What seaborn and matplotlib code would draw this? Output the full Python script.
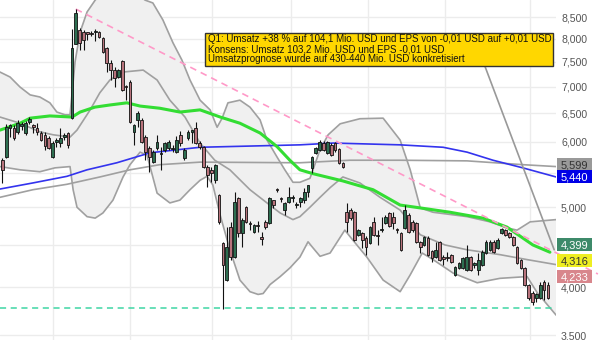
import numpy as np
import matplotlib
matplotlib.use("Agg")
import matplotlib.pyplot as plt
from matplotlib.patches import Rectangle
from matplotlib.ticker import FixedLocator, FuncFormatter, NullLocator, NullFormatter
import seaborn as sns

# ---------------- data (prices) ----------------
opens = [5.70, 5.75, 6.24, 6.24, 6.17, 6.27, 6.15, 6.34, 6.29, 6.24,
         6.15, 6.12, 6.07, 5.75, 6.00, 5.98, 6.08, 6.15, 6.41, 7.89,
         8.20, 8.15, 8.13, 8.11, 8.15, 8.15, 8.02, 7.80, 7.48, 7.33,
         7.19, 7.52, 7.01, 7.09, 6.17, 6.38, 6.38, 6.08, 5.90, 5.67,
         5.90, 5.80, 5.87, 5.90, 5.88, 5.83, 6.12, 5.74, 6.07, 6.17,
         6.24, 5.98, 5.92, 5.59, 5.55, 5.39, 5.17, 4.53, 4.08, 4.73,
         4.35, 5.13, 4.65, 5.00, 4.79, 4.67, 4.76, 4.59, 4.80, 4.79,
         5.10, 5.25, 5.12, 4.96, 5.07, 5.13, 5.03, 5.07, 5.10, 5.22,
         5.58, 5.82, 5.87, 5.98, 5.82, 5.95, 5.98, 5.88, 5.66, 4.93,
         4.96, 4.93, 4.63, 4.65, 4.59, 4.53, 4.80, 4.63, 4.69, 4.79,
         4.92, 4.87, 4.71, 4.65, 4.72, 4.89, 4.80, 4.79, 4.54, 4.50,
         4.59, 4.43, 4.35, 4.54, 4.34, 4.35, 4.38, 4.14, 4.22, 4.22,
         4.20, 4.35, 4.26, 4.20, 4.26, 4.40, 4.44, 4.54, 4.46, 4.65,
         4.69, 4.65, 4.60, 4.48, 4.32, 4.22, 4.03, 3.94, 3.88, 3.88,
         4.06, 4.03]
highs = [5.74, 6.31, 6.31, 6.29, 6.38, 6.34, 6.36, 6.43, 6.31, 6.32,
         6.18, 6.17, 6.10, 6.01, 6.06, 6.24, 6.15, 6.17, 8.22, 8.69,
         8.24, 8.20, 8.15, 8.17, 8.22, 8.17, 8.04, 7.82, 7.54, 7.39,
         7.35, 7.54, 7.03, 7.13, 6.31, 6.54, 6.41, 6.12, 5.93, 5.87,
         6.12, 5.91, 6.00, 6.03, 5.95, 6.10, 6.19, 5.90, 6.20, 6.20,
         6.34, 6.01, 5.93, 5.62, 5.59, 5.64, 5.19, 4.54, 4.73, 4.80,
         5.22, 5.14, 4.85, 5.02, 4.81, 4.77, 4.81, 4.67, 4.83, 5.14,
         5.10, 5.28, 5.14, 5.07, 5.29, 5.17, 5.07, 5.14, 5.28, 5.32,
         5.77, 5.91, 6.03, 6.01, 6.01, 5.98, 6.00, 5.90, 5.67, 5.06,
         4.99, 4.95, 4.71, 4.67, 4.61, 4.74, 4.87, 4.69, 4.87, 4.89,
         4.93, 4.93, 4.72, 4.67, 5.03, 4.92, 4.83, 4.80, 4.55, 4.61,
         4.61, 4.44, 4.54, 4.55, 4.38, 4.41, 4.39, 4.24, 4.29, 4.35,
         4.50, 4.36, 4.29, 4.40, 4.44, 4.56, 4.56, 4.56, 4.59, 4.72,
         4.71, 4.67, 4.61, 4.49, 4.33, 4.23, 4.04, 3.96, 3.94, 4.06,
         4.08, 4.06]
lows = [5.35, 5.74, 6.08, 6.03, 6.13, 6.20, 6.12, 6.31, 6.15, 6.12,
        6.01, 5.87, 5.88, 5.74, 5.92, 5.92, 6.03, 5.90, 6.39, 7.88,
        7.75, 7.75, 7.97, 8.06, 7.95, 8.02, 7.69, 7.29, 7.13, 6.99,
        7.17, 6.91, 6.74, 6.32, 5.95, 6.25, 5.98, 5.70, 5.52, 5.66,
        5.87, 5.55, 5.83, 5.87, 5.83, 5.82, 5.93, 5.70, 6.03, 5.98,
        5.97, 5.88, 5.58, 5.29, 5.36, 5.35, 4.77, 3.76, 4.07, 4.32,
        4.34, 4.60, 4.48, 4.79, 4.69, 4.65, 4.67, 4.50, 4.71, 4.77,
        4.99, 5.22, 5.07, 4.89, 5.06, 5.07, 4.99, 5.00, 5.06, 5.14,
        5.50, 5.80, 5.85, 5.85, 5.80, 5.77, 5.83, 5.64, 5.58, 4.67,
        4.83, 4.55, 4.61, 4.46, 4.38, 4.51, 4.61, 4.50, 4.67, 4.77,
        4.73, 4.71, 4.65, 4.43, 4.71, 4.65, 4.67, 4.53, 4.40, 4.49,
        4.36, 4.29, 4.34, 4.30, 4.26, 4.30, 4.28, 4.13, 4.21, 4.21,
        4.19, 4.19, 4.22, 4.14, 4.24, 4.39, 4.43, 4.40, 4.45, 4.64,
        4.61, 4.59, 4.49, 4.27, 4.21, 4.01, 3.86, 3.81, 3.84, 3.87,
        3.86, 3.87]
closes = [5.55, 6.25, 6.29, 6.07, 6.32, 6.31, 6.32, 6.39, 6.25, 6.17,
          6.03, 5.93, 5.90, 5.98, 6.01, 6.06, 6.12, 5.95, 7.80, 8.60,
          7.91, 7.97, 8.11, 8.10, 8.17, 8.04, 7.71, 7.48, 7.33, 7.17,
          7.33, 6.93, 6.99, 6.34, 6.29, 6.50, 6.00, 5.83, 5.75, 5.83,
          6.00, 5.82, 5.98, 6.00, 5.90, 6.03, 5.98, 5.87, 6.17, 6.19,
          5.98, 5.92, 5.59, 5.47, 5.50, 5.62, 4.80, 4.26, 4.48, 4.35,
          5.07, 4.65, 4.83, 4.80, 4.77, 4.76, 4.74, 4.58, 4.73, 5.13,
          5.03, 5.24, 5.11, 5.06, 5.14, 5.14, 5.04, 5.13, 5.22, 5.32,
          5.75, 5.90, 6.00, 5.87, 6.00, 5.78, 5.87, 5.66, 5.59, 4.80,
          4.85, 4.56, 4.69, 4.56, 4.48, 4.73, 4.63, 4.61, 4.70, 4.87,
          4.75, 4.79, 4.69, 4.44, 4.96, 4.67, 4.69, 4.54, 4.48, 4.60,
          4.38, 4.34, 4.44, 4.32, 4.33, 4.34, 4.29, 4.23, 4.28, 4.34,
          4.35, 4.20, 4.27, 4.32, 4.41, 4.54, 4.54, 4.41, 4.56, 4.71,
          4.63, 4.60, 4.50, 4.28, 4.22, 4.03, 3.88, 3.84, 3.92, 4.03,
          3.97, 3.88]

# Bollinger bands and moving averages (candle index, price)
bb_upper_x = [-0.6, 2.0, 4.6, 7.2, 9.7, 12.3, 14.1, 16.2, 17.5, 18.8, 20.1, 21.9,
              24.0, 26.5, 30.4, 34.3, 36.9, 38.9, 41.5, 44.1, 46.4, 48.5, 51.1,
              53.7, 55.5, 56.8, 58.3, 61.4, 64.0, 66.6, 68.4, 71.0, 73.0, 75.1,
              76.9, 79.5, 82.1, 84.2, 87.3, 92.4, 98.4, 102.8, 105.4, 108.0,
              111.3, 120.1, 126.0, 130.4, 133.0, 136.4, 143.1]
bb_upper_y = [7.29, 7.19, 6.99, 6.84, 6.80, 6.69, 6.52, 6.47, 6.47, 7.50, 8.15, 8.62,
              8.91, 9.16, 9.29, 9.11, 8.91, 8.84, 8.43, 7.91, 7.54, 7.13, 6.74,
              6.56, 6.25, 6.41, 6.69, 6.74, 6.61, 6.38, 6.03, 5.75, 5.55, 5.36,
              5.36, 5.42, 5.87, 6.12, 6.31, 6.40, 6.41, 6.03, 5.55, 4.99,
              4.93, 4.87, 4.80, 4.72, 4.69, 4.80, 4.83]
bb_mid_x = [-0.6, 4.6, 9.7, 13.1, 17.5, 19.3, 22.7, 25.2, 27.8, 31.2, 36.4, 40.0,
            43.3, 47.2, 51.1, 54.9, 58.8, 64.0, 68.4, 71.8, 75.1, 76.9, 79.5,
            82.1, 84.7, 88.0, 92.4, 97.6, 102.8, 108.0, 114.4, 120.1, 128.6,
            135.6, 143.1]
bb_mid_y = [6.43, 6.32, 6.17, 6.12, 6.08, 6.20, 6.56, 6.88, 7.13, 7.29, 7.33, 7.13,
            6.74, 6.43, 5.98, 5.70, 5.55, 5.25, 5.06, 4.92, 4.83, 4.87, 5.00,
            5.14, 5.28, 5.44, 5.35, 5.14, 4.96, 4.63, 4.50, 4.44, 4.38,
            4.32, 4.26]
bb_lower_x = [-0.6, 4.6, 9.7, 13.6, 17.5, 18.3, 19.3, 21.9, 24.0, 26.0, 28.6, 31.2,
              33.0, 35.6, 37.4, 40.0, 43.3, 45.9, 48.5, 51.1, 52.9, 54.4, 56.3,
              58.8, 61.4, 64.0, 66.1, 67.4, 69.2, 71.8, 74.3, 76.9, 79.0, 80.0,
              82.1, 84.7, 88.5, 90.6, 94.2, 98.4, 102.8, 105.4, 108.5, 111.3,
              116.5, 122.7, 128.6, 135.6, 138.2, 143.1]
bb_lower_y = [5.60, 5.55, 5.52, 5.58, 5.60, 5.25, 5.00, 4.87, 4.85, 4.92, 5.10, 5.44,
              5.63, 5.83, 5.78, 5.20, 5.06, 5.10, 5.25, 5.39, 5.45, 5.32, 4.89,
              4.44, 4.08, 3.95, 3.92, 3.93, 4.03, 4.12, 4.22, 4.35, 4.54, 4.48,
              4.36, 4.40, 4.69, 4.56, 4.35, 4.08, 3.95, 4.14, 4.40, 4.32,
              4.16, 4.05, 4.10, 4.12, 3.94, 3.70]
ma50_x = [-0.6, 4.6, 7.2, 12.3, 18.0, 20.1, 23.9, 27.8, 32.2, 35.6, 40.7, 45.9,
          51.1, 56.3, 61.4, 66.6, 71.0, 74.3, 76.9, 80.3, 88.0, 95.8, 102.8,
          108.0, 115.7, 124.2, 130.4, 137.1, 141.5]
ma50_y = [6.20, 6.32, 6.41, 6.45, 6.43, 6.52, 6.61, 6.65, 6.69, 6.63, 6.59, 6.52,
          6.56, 6.43, 6.32, 6.15, 5.92, 5.70, 5.55, 5.49, 5.38, 5.25, 5.03,
          4.99, 4.93, 4.85, 4.73, 4.50, 4.41]
ma200_x = [-0.6, 7.9, 16.7, 21.9, 29.6, 38.2, 51.1, 76.9, 85.5, 102.8, 113.9,
           120.1, 126.8, 134.5, 143.1]
ma200_y = [5.26, 5.35, 5.45, 5.55, 5.66, 5.82, 5.91, 5.95, 5.98, 5.95, 5.91,
           5.83, 5.70, 5.58, 5.44]
ma100_x = [-0.6, 7.9, 16.7, 25.2, 33.0, 40.7, 51.1, 76.9, 89.8, 102.8, 120.1,
           134.5, 143.1]
ma100_y = [5.14, 5.25, 5.33, 5.44, 5.55, 5.63, 5.67, 5.66, 5.70, 5.70, 5.69,
           5.63, 5.60]

trend_x = [19, 153.9]
trend_y = [8.69, 4.15]
support_level = 3.776
callout_x = [124.7, 142.6]
callout_y = [7.41, 4.44]

y_ticks = [3.5, 4.0, 4.5, 5.0, 5.5, 6.0, 6.5, 7.0, 7.5, 8.0, 8.5]
y_hidden = [4.5, 5.5]
month_grid = [13.1, 33.0, 54.2, 74.6, 94.5, 114.4, 136.4]

price_labels = ["5,599", "5,440", "4,399", "4,316", "4,233"]
note_lines = ["Q1: Umsatz +38 % auf 104,1 Mio. USD und EPS von -0,01 USD auf +0,01 USD",
              "Konsens: Umsatz 103,2 Mio. USD und EPS -0,01 USD",
              "Umsatzprognose wurde auf 430-440 Mio. USD konkretisiert"]

# ---------------- styling ----------------
sns.set_theme(style="white")
plt.rcParams['font.family'] = ['Liberation Sans', 'DejaVu Sans']

W, H = 600, 340
fig = plt.figure(figsize=(6, 3.4), dpi=100)
ax = fig.add_axes([0, 0, 556 / W, 1])
ax.set_yscale('log')
ax.set_xlim(-0.594, 143.07)
ax.set_ylim(3.452, 8.913)
for s in ax.spines.values():
    s.set_visible(False)

# grid
ax.yaxis.set_major_locator(FixedLocator(y_ticks))
ax.yaxis.set_minor_locator(NullLocator())
ax.yaxis.set_minor_formatter(NullFormatter())
ax.yaxis.set_major_formatter(FuncFormatter(
    lambda v, p: "" if any(abs(v - h) < 1e-6 for h in y_hidden) else f"{v:.3f}".replace(".", ",")))
ax.set_xticks(month_grid)
ax.grid(True, color='#ececec', lw=1)
ax.set_axisbelow(True)
ax.tick_params(axis='x', length=0, labelbottom=False)
ax.yaxis.tick_right()
ax.tick_params(axis='y', which='both', length=0, labelright=True, labelleft=False,
               pad=3.6, labelsize=7.6, labelcolor='#555555')

# Bollinger band fill
ux, uy = np.array(bb_upper_x), np.array(bb_upper_y)
lx, ly = np.array(bb_lower_x), np.array(bb_lower_y)
ax.fill(np.r_[ux, lx[::-1]], np.r_[uy, ly[::-1]], color='#f0f0f0', lw=0, zorder=1)

def line(x, y, color, lw, z):
    sns.lineplot(x=x, y=y, ax=ax, color=color, linewidth=lw, zorder=z,
                 estimator=None, sort=False, legend=False)

line(bb_upper_x, bb_upper_y, '#a0a0a0', 1.2, 2)
line(bb_lower_x, bb_lower_y, '#a0a0a0', 1.2, 2)
line(bb_mid_x, bb_mid_y, '#a0a0a0', 1.2, 2)
line(ma100_x, ma100_y, '#a0a0a0', 1.2, 2)
line(ma200_x, ma200_y, '#3333ee', 1.2, 3)
line(ma50_x, ma50_y, '#33dd33', 2.2, 3)

# trend line, support, callout
ax.plot(trend_x, trend_y, color='#ff99c8', lw=1.2, ls=(0, (4, 3)), zorder=3, clip_on=False)
ax.hlines(support_level, -0.6, 142.3, color='#3ed6a4', lw=1.1, linestyles=(0, (4, 3)), zorder=3)
ax.plot(callout_x, callout_y, color='#999999', lw=1.2, zorder=3)

# candles
o, h, l, c = map(np.array, (opens, highs, lows, closes))
idx = np.arange(len(c))
up = c >= o
body_col = np.where(up, '#2d6e50', '#b8737c')
ax.vlines(idx, l, h, color='#111111', lw=0.8, zorder=5)
ax.bar(idx, np.maximum(np.abs(c - o), 0.004 * c), bottom=np.minimum(o, c), width=0.7,
       color=body_col, edgecolor='#111111', linewidth=0.6, zorder=6)

# annotation box
fig.add_artist(Rectangle((205 / W, 1 - 66 / H), 348 / W, 33 / H, transform=fig.transFigure,
                         fc='#ffd700', ec='#333333', lw=1, zorder=10))
for k, (t, yc) in enumerate(zip(note_lines, [39.3, 49.2, 59.3])):
    fig.text(208 / W, 1 - yc / H, t, ha='left', va='center', fontsize=7.0,
             color='#111111', zorder=11)

# price labels on the right axis
label_bg = ['#999999', '#0000e6', '#3d8a6a', '#eeee22', '#d8868c']
label_fg = ['#333333', 'white', 'white', '#333333', 'white']
label_yc = [164, 176.5, 244.3, 260, 276]
for t, bg, fg, yc in zip(price_labels, label_bg, label_fg, label_yc):
    fig.add_artist(Rectangle((557 / W, 1 - (yc + 6.5) / H), 35 / W, 13 / H,
                             transform=fig.transFigure, fc=bg, ec='none', zorder=10))
    fig.text(574.5 / W, 1 - yc / H, t, ha='center', va='center_baseline', fontsize=8,
             color=fg, zorder=11)

fig.savefig('out.png', dpi=100)
